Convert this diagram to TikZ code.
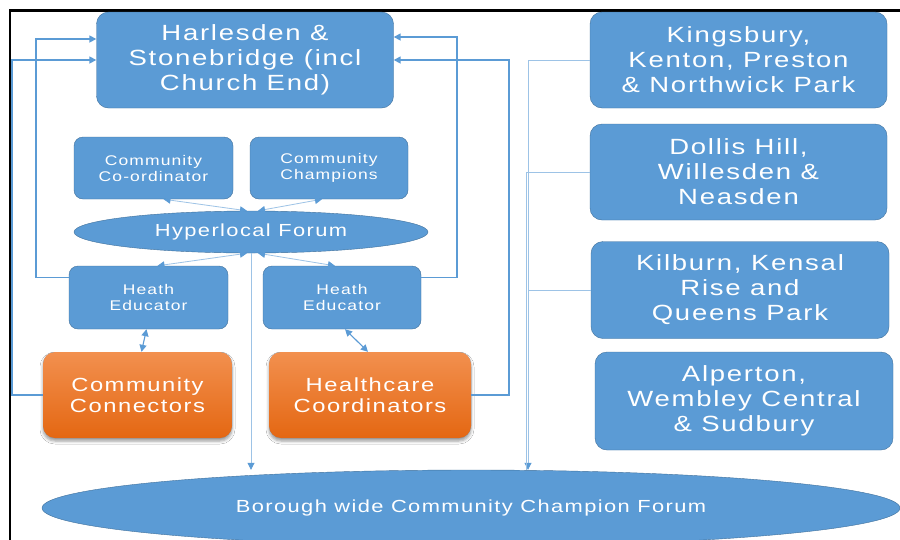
\documentclass[tikz,border=0pt]{standalone}
\usepackage{fontspec}
\usetikzlibrary{shapes.geometric}
\usetikzlibrary{arrows.meta}
\usetikzlibrary{shadows.blur}
\newfontfamily\boxfont{Liberation Sans}[FakeStretch=1.25, LetterSpace=8]
\definecolor{boxblue}{HTML}{5B9BD5}
\definecolor{edgeblue}{HTML}{41719C}
\definecolor{paleblue}{HTML}{9DC3E6}
\definecolor{orangetop}{HTML}{F2904F}
\definecolor{orangebot}{HTML}{E46712}
\tikzstyle{box}=[draw=edgeblue, fill=boxblue, text=white, rounded corners=12pt, inner sep=0pt, align=center]
\tikzstyle{areabox}=[box, minimum width=297pt, minimum height=96pt, font=\boxfont\fontsize{22}{25}\selectfont]
\tikzstyle{rolebox}=[box, rounded corners=9pt, minimum width=159pt, minimum height=63pt, font=\boxfont\fontsize{14}{16}\selectfont]
\tikzstyle{teambox}=[box, draw=none, top color=orangetop, bottom color=orangebot, minimum height=86pt,
  blur shadow={shadow xshift=0pt, shadow yshift=-3pt, shadow blur radius=3pt, shadow opacity=40},
  font=\boxfont\fontsize{19}{21}\selectfont]
\tikzstyle{forum}=[ellipse, draw=edgeblue, fill=boxblue, text=white, inner sep=0pt, font=\boxfont\fontsize{17.5}{20}\selectfont]
\tikzstyle{loopline}=[boxblue, line width=1.6pt, -{Triangle[length=7pt, width=7pt]}]
\tikzstyle{link}=[paleblue, line width=0.8pt, >={Triangle[length=7pt, width=7pt, color=boxblue]}]

\begin{document}
\begin{tikzpicture}[x=1pt, y=-1pt]
    \useasboundingbox (0,0) rectangle (900,539);
    \clip (0,0) rectangle (900,539);
    \fill[white] (0,0) rectangle (900,539);
    \draw[line width=2.5pt] (10,560) -- (10,10.5) -- (920,10.5);

    % Harlesden hub and its groups
    \node[areabox] (harl) at (245, 60) {Harlesden \&\\Stonebridge (incl\\Church End)};
    \node[rolebox, minimum width=159pt, minimum height=62pt] (coord) at (153.5, 168) {Community\\Co-ordinator};
    \node[rolebox, minimum width=158pt, minimum height=62pt] (champ) at (329, 168) {Community\\Champions};
    \node[forum, minimum width=354pt, minimum height=42pt] (forum) at (251, 232) {Hyperlocal Forum};
    \node[rolebox] (heL) at (148.5, 297.5) {Heath\\Educator};
    \node[rolebox, minimum width=158pt] (heR) at (342, 297.5) {Heath\\Educator};
    \node[teambox, minimum width=189pt] (conn) at (137.5, 395) {Community\\Connectors};
    \node[teambox, minimum width=202pt] (heal) at (370, 395) {Healthcare\\Coordinators};

    % other areas
    \node[areabox] (king) at (738.5, 60) {Kingsbury,\\Kenton, Preston\\\& Northwick Park};
    \node[areabox] (doll) at (738.5, 172) {Dollis Hill,\\Willesden \&\\Neasden};
    \node[areabox, minimum width=298pt, minimum height=97pt] (kil) at (740, 290) {Kilburn, Kensal\\Rise and\\Queens Park};
    \node[areabox, minimum width=298pt, minimum height=98pt] (alp) at (744, 401) {Alperton,\\Wembley Central\\\& Sudbury};

    \node[forum, minimum width=858pt, minimum height=76pt] (borough) at (471, 508) {Borough wide Community Champion Forum};
    \coordinate (drop) at ([xshift=57pt]borough.north);

    % feedback loops into the hub
    \draw[loopline] (conn.west) -- ++(-31,0) |- (harl.west);
    \draw[loopline] ([yshift=20pt]heL.west) -- ++(-33,0) |- ([yshift=21pt]harl.west);
    \draw[loopline] ([yshift=20pt]heR.east) -- ++(36,0) |- ([yshift=23pt]harl.east);
    \draw[loopline] (heal.east) -- ++(38,0) |- (harl.east);

    % forum links
    \draw[link, <->] ([xshift=-4pt]forum.north) -- ([xshift=10pt]coord.south);
    \draw[link, <->] ([xshift=7pt]forum.north) -- ([xshift=-7pt]champ.south);
    \draw[link, <->] ([xshift=-4pt]forum.south) -- ([xshift=9pt]heL.north);
    \draw[link, <->] ([xshift=7pt]forum.south) -- ([xshift=-7pt]heR.north);
    \draw[link, boxblue, line width=1.1pt, <->] ([xshift=-2pt]heL.south) -- ([xshift=4pt]conn.north);
    \draw[link, boxblue, line width=1.1pt, <->] ([xshift=3pt]heR.south) -- ([xshift=-2pt]heal.north);
    \draw[link, ->] (forum.south) -- (forum.south |- borough.north);

    % areas feeding the borough forum
    \draw[link, ->] (king.west) -| (drop);
    \draw[link] (doll.west) -| ([xshift=-2pt]drop);
    \draw[link] (kil.west) -- (kil.west -| drop);
\end{tikzpicture}
\end{document}
